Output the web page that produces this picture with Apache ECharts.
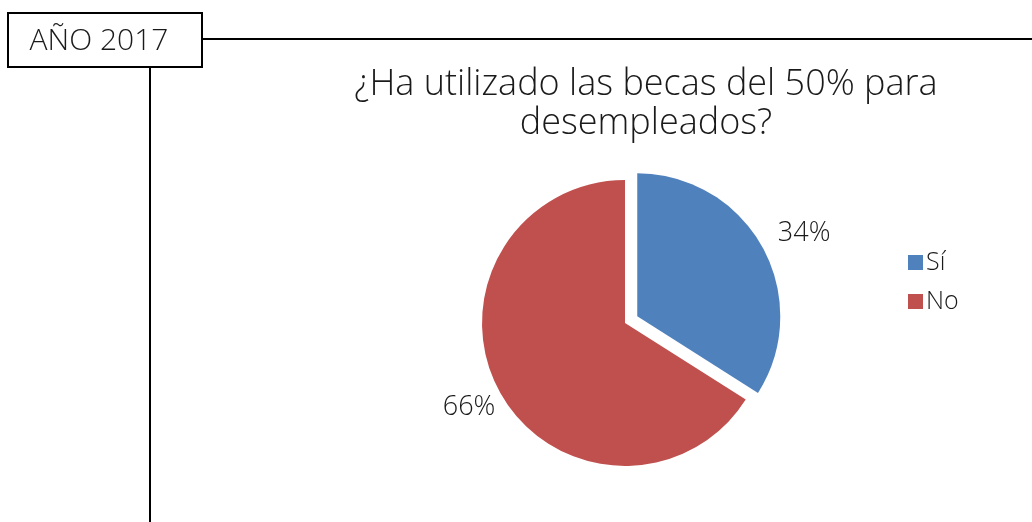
<!DOCTYPE html>
<html><head><meta charset="utf-8">
<script src="https://cdn.jsdelivr.net/npm/echarts@6/dist/echarts.min.js"></script>
<style>html,body{margin:0;padding:0;background:#fff}#c{width:1032px;height:522px}</style>
</head><body><div id="c"></div>
<script>
const categories = ['Sí', 'No'];
const values = [34, 66];
const colors = ['#4F81BD', '#C0504D'];
const titleText = '¿Ha utilizado las becas del 50% para\ndesempleados?';
const boxText = 'AÑO 2017';
const FONT = 'Open Sans';
const labelShift = [[-4, -3], [15, 5]];

const chart = echarts.init(document.getElementById('c'), null, {renderer: 'canvas'});
chart.setOption({
  animation: false,
  backgroundColor: '#fff',
  title: {
    text: titleText,
    left: 641, top: 60, textAlign: 'center',
    textStyle: {fontFamily: FONT, fontWeight: 300, fontSize: 36, lineHeight: 39, color: '#1a1a1a'}
  },
  legend: {
    orient: 'vertical', left: 903, top: 245, itemWidth: 15, itemHeight: 15, itemGap: 14,
    icon: 'rect',
    textStyle: {fontFamily: FONT, fontWeight: 300, fontSize: 25, lineHeight: 24, color: '#1a1a1a', padding: [0,0,0,-2]},
    data: categories
  },
  graphic: [
    {type: 'line', shape: {x1: 202, y1: 39, x2: 1032, y2: 39}, style: {stroke: '#000', lineWidth: 2}},
    {type: 'line', shape: {x1: 150, y1: 67, x2: 150, y2: 522}, style: {stroke: '#000', lineWidth: 2}},
    {type: 'rect', shape: {x: 8, y: 13, width: 194, height: 54}, style: {fill: '#fff', stroke: '#000', lineWidth: 2}},
    {type: 'text', x: 99, y: 41, style: {text: boxText, fontFamily: FONT, fontWeight: 300, fontSize: 30, fill: '#1a1a1a', align: 'center', verticalAlign: 'middle'}}
  ],
  series: [{
    type: 'pie',
    center: [625, 323],
    radius: [0, 143],
    startAngle: 90,
    clockwise: true,
    selectedMode: 'single',
    selectedOffset: 14,
    itemStyle: {borderWidth: 0},
    emphasis: {disabled: true},
    label: {
      show: true, position: 'outside',
      formatter: p => Math.round(p.percent) + '%',
      fontFamily: FONT, fontWeight: 300, fontSize: 27, color: '#1a1a1a',
      distanceToLabelLine: 0
    },
    labelLine: {show: false, length: 22, length2: 0},
    labelLayout: p => ({dx: labelShift[p.dataIndex][0], dy: labelShift[p.dataIndex][1]}),
    data: categories.map((c, i) => ({
      name: c, value: values[i], selected: i === 0,
      itemStyle: {color: colors[i]}
    }))
  }]
});
</script>
</body></html>
